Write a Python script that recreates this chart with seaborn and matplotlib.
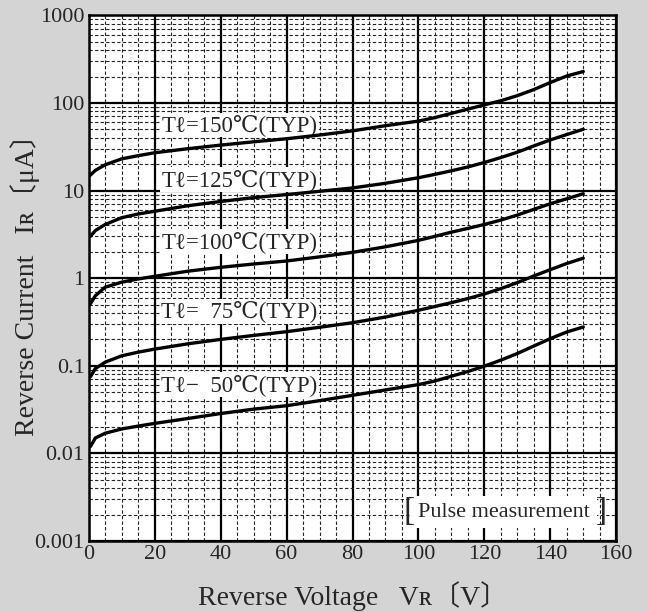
import matplotlib
matplotlib.use('Agg')
import matplotlib.pyplot as plt
from matplotlib.ticker import FixedLocator, LogLocator, NullFormatter, FixedFormatter
import pandas as pd
import seaborn as sns

# reverse voltage [V] and reverse current [uA]
voltage = [0.5, 2, 5, 10, 15, 20, 30, 40, 50, 60, 70, 80, 90, 100,
           105, 110, 115, 120, 125, 130, 135, 140, 145, 150]
ir_150 = [15, 17, 19.7, 23, 25, 27, 30, 33, 36, 39, 43, 48, 55, 62,
          68, 76, 85, 95, 106, 121, 142, 171, 203, 228]
ir_125 = [3.0, 3.5, 4.1, 4.9, 5.4, 5.8, 6.7, 7.5, 8.3, 9.0, 9.8, 10.7, 12.1, 14.0,
          15.3, 16.8, 18.6, 20.9, 23.8, 27.4, 32.3, 37.8, 43.6, 50]
ir_100 = [0.51, 0.63, 0.79, 0.9, 0.98, 1.05, 1.2, 1.33, 1.45, 1.57, 1.75, 1.97, 2.28, 2.7,
          3.0, 3.35, 3.7, 4.1, 4.6, 5.25, 6.1, 7.07, 8.05, 9.2]
ir_75 = [0.075, 0.093, 0.11, 0.13, 0.143, 0.155, 0.178, 0.2, 0.222, 0.245, 0.275, 0.31, 0.36, 0.43,
         0.475, 0.525, 0.585, 0.66, 0.76, 0.89, 1.06, 1.25, 1.47, 1.69]
ir_50 = [0.012, 0.015, 0.017, 0.019, 0.0205, 0.022, 0.025, 0.0285, 0.032, 0.035, 0.040, 0.046, 0.053, 0.061,
         0.067, 0.076, 0.086, 0.099, 0.116, 0.138, 0.168, 0.204, 0.243, 0.277]

series = {'150': ir_150, '125': ir_125, '100': ir_100, '75': ir_75, '50': ir_50}
labels = ['Tℓ=150℃(TYP)', 'Tℓ=125℃(TYP)', 'Tℓ=100℃(TYP)', 'Tℓ=  75℃(TYP)', 'Tℓ−  50℃(TYP)']
label_y = [56, 13.3, 2.6, 0.42, 0.061]

x_ticks = [0, 20, 40, 60, 80, 100, 120, 140, 160]
y_ticks = [0.001, 0.01, 0.1, 1, 10, 100, 1000]
y_tick_labels = ['0.001', '0.01', '0.1', '1', '10', '100', '1000']

rows = []
for temp, vals in series.items():
    for v, i in zip(voltage, vals):
        rows.append({'VR': v, 'IR': i, 'Tj': temp})
df = pd.DataFrame(rows)

sns.set_style('white')
fonts = ['Liberation Serif', 'DejaVu Serif', 'Noto Sans CJK JP']
plt.rcParams['font.family'] = fonts

fig = plt.figure(figsize=(6.48, 6.12), dpi=100, facecolor='#d4d4d4')
ax = fig.add_axes([0.137, 0.116, 0.814, 0.859])
ax.set_facecolor('white')

sns.lineplot(data=df, x='VR', y='IR', hue='Tj', palette=['black'] * 5,
             linewidth=2.4, legend=False, ax=ax, zorder=5)

ax.set_yscale('log')
ax.set_xlim(0, 160)
ax.set_ylim(0.001, 1000)

# grid: solid major, dashed minor
ax.xaxis.set_major_locator(FixedLocator(x_ticks))
ax.xaxis.set_minor_locator(FixedLocator(list(range(5, 160, 5))))
ax.yaxis.set_major_locator(FixedLocator(y_ticks))
ax.yaxis.set_major_formatter(FixedFormatter(y_tick_labels))
ax.yaxis.set_minor_locator(LogLocator(base=10, subs=range(2, 10), numticks=20))
ax.yaxis.set_minor_formatter(NullFormatter())
ax.grid(which='major', color='black', linewidth=1.6, linestyle='-')
ax.grid(which='minor', color='#222222', linewidth=0.8, linestyle=(0, (3, 2)))
ax.tick_params(which='both', length=0, labelsize=16, pad=3)

for s in ax.spines.values():
    s.set_color('black')
    s.set_linewidth(1.8)

for lab, y in zip(labels, label_y):
    ax.text(22, y, lab, fontsize=16.5, va='center', ha='left', zorder=4,
            bbox=dict(facecolor='white', edgecolor='none', pad=1))

# pulse note with tall brackets
ax.text(126, 0.00214, 'Pulse measurement', fontsize=16, va='center', ha='center',
        zorder=4, bbox=dict(facecolor='white', edgecolor='none', pad=5))
ax.text(97.3, 0.00214, '[', fontsize=24, va='center', ha='center', zorder=4,
        fontweight='light')
ax.text(155.6, 0.00214, ']', fontsize=24, va='center', ha='center', zorder=4,
        fontweight='light')

ax.set_xlabel('Reverse Voltage   Vʀ〔V〕', fontsize=20, labelpad=12)
ax.set_ylabel('Reverse Current   Iʀ〔μA〕', fontsize=20, va='center')
ax.yaxis.set_label_coords(-0.12, 0.5)

fig.savefig('out.png', dpi=100, facecolor=fig.get_facecolor())
